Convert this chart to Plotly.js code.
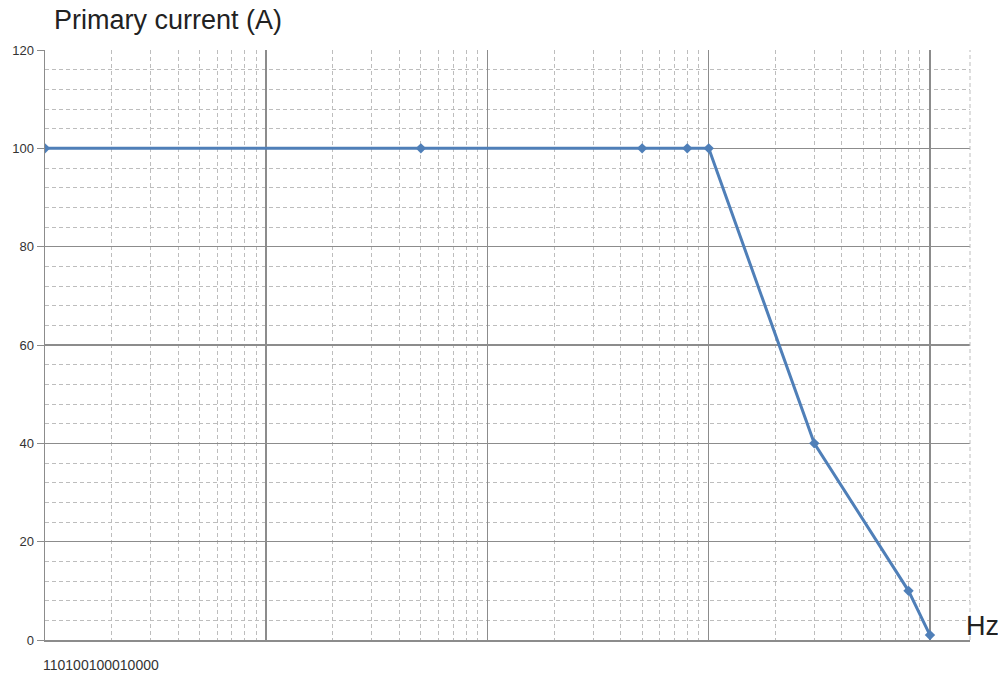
<!DOCTYPE html>
<html>
<head>
<meta charset="utf-8">
<script src="https://cdn.plot.ly/plotly-3.0.1.min.js"></script>
<style>
  html, body { margin: 0; padding: 0; background: #fff; }
  #chart { width: 998px; height: 673px; }
</style>
</head>
<body>
<div id="chart"></div>
<script>
// frequency (Hz) and primary current (A)
var freq = [1, 50, 500, 800, 1000, 3000, 8000, 10000];
var current = [100, 100, 100, 100, 100, 40, 10, 1];
var xTickText = '110100100010000';

var trace = {
  x: freq,
  y: current,
  type: 'scatter',
  mode: 'lines+markers',
  line: {color: '#4f7fb8', width: 3},
  marker: {symbol: 'diamond', size: 8, color: '#4f7fb8'},
  hoverinfo: 'x+y'
};

var minorGrid = '#bdbdbd';
var majorGrid = '#8c8c8c';

var layout = {
  width: 998,
  height: 673,
  margin: {l: 45, r: 28, t: 50, b: 33},
  paper_bgcolor: '#fff',
  plot_bgcolor: '#fff',
  showlegend: false,
  font: {family: 'Liberation Sans, Arial, sans-serif', color: '#222'},
  title: {
    text: 'Primary current (A)',
    font: {size: 27, color: '#222'},
    x: 54 / 998, xanchor: 'left',
    y: 1 - 20 / 673, yanchor: 'middle'
  },
  xaxis: {
    type: 'log',
    range: [0, 4.181],
    showticklabels: false,
    ticks: '',
    showgrid: true,
    gridcolor: majorGrid,
    gridwidth: 1.5,
    dtick: 1,
    minor: {showgrid: true, gridcolor: minorGrid, griddash: '4px,3px', gridwidth: 1},
    showline: true,
    linecolor: majorGrid,
    linewidth: 1.5,
    zeroline: false,
    fixedrange: true
  },
  yaxis: {
    range: [0, 120],
    dtick: 20,
    tickfont: {size: 13, color: '#333'},
    ticks: 'outside',
    ticklen: 7,
    tickcolor: majorGrid,
    showgrid: true,
    gridcolor: majorGrid,
    gridwidth: 1.5,
    minor: {dtick: 4, showgrid: true, gridcolor: minorGrid, griddash: '4px,3px', gridwidth: 1},
    showline: true,
    linecolor: majorGrid,
    linewidth: 1.5,
    zeroline: false,
    fixedrange: true
  },
  shapes: [{
    type: 'line', xref: 'paper', yref: 'paper',
    x0: 1, x1: 1, y0: 0, y1: 1,
    line: {color: minorGrid, width: 1, dash: '4px,3px'}
  }],
  annotations: [
    {
      text: xTickText, xref: 'paper', yref: 'paper',
      x: -0.004, y: -0.043, xanchor: 'left', yanchor: 'middle',
      showarrow: false, font: {size: 14, color: '#333'}
    },
    {
      text: 'Hz', xref: 'paper', yref: 'paper',
      x: 0.993, y: 0.024, xanchor: 'left', yanchor: 'middle',
      showarrow: false, font: {size: 27, color: '#222'}
    }
  ]
};

Plotly.newPlot('chart', [trace], layout, {displayModeBar: false, staticPlot: true});
</script>
</body>
</html>
